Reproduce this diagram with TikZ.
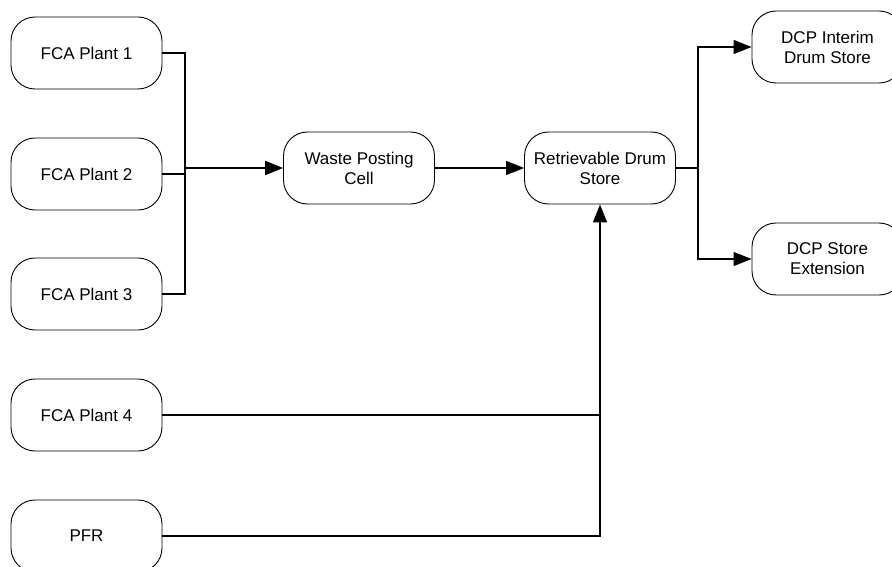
\documentclass[tikz,border=0pt]{standalone}
\usepackage{fontspec}
\setmainfont{Liberation Sans}
\usetikzlibrary{arrows.meta}
\begin{document}
\begin{tikzpicture}[x=1pt,y=-1pt,
  procbox/.style={draw=black, line width=0.9pt, rounded corners=24pt,
    minimum width=151pt, minimum height=72pt, inner sep=0pt,
    align=center, font=\fontsize{17}{20}\selectfont},
  link/.style={draw=black, line width=1.3pt},
  flow/.style={link, -{Triangle[length=18pt,width=14pt]}}]
\useasboundingbox (0,0) rectangle (892,567);
\clip (0,0) rectangle (892,567);
\fill[white] (0,0) rectangle (892,567);

% source plants
\node[procbox] (f1)  at (86.5,53)  {FCA Plant 1};
\node[procbox] (f2)  at (86.5,174) {FCA Plant 2};
\node[procbox] (f3)  at (86.5,294) {FCA Plant 3};
\node[procbox] (f4)  at (86.5,415) {FCA Plant 4};
\node[procbox] (pfr) at (86.5,536) {PFR};

% processing and stores
\node[procbox] (wpc)  at (359,168)   {Waste Posting\\Cell};
\node[procbox] (rds)  at (600,168)   {Retrievable Drum\\Store};
\node[procbox] (dcp1) at (827.5,47)  {DCP Interim\\Drum Store};
\node[procbox] (dcp2) at (827.5,259) {DCP Store\\Extension};

% merge of plants 1-3
\coordinate (jx) at (185,168);
\draw[link] (f1.east) -| (jx);
\draw[link] (f3.east) -| (jx);
\draw[link] (f2.east) -- (f2.east -| jx);
\draw[flow, line width=2pt] (jx) -- (wpc.west);

\draw[flow] (wpc.east) -- (rds.west);

% feeds from below into the drum store
\draw[link] (f4.east) -- (f4.east -| rds.south);
\draw[flow] (pfr.east) -| (rds.south);

% split to the DCP stores
\coordinate (sx) at (698,168);
\draw[link] (rds.east) -- (sx);
\draw[flow] (sx) |- (dcp1.west);
\draw[flow] (sx) |- (dcp2.west);
\end{tikzpicture}
\end{document}
